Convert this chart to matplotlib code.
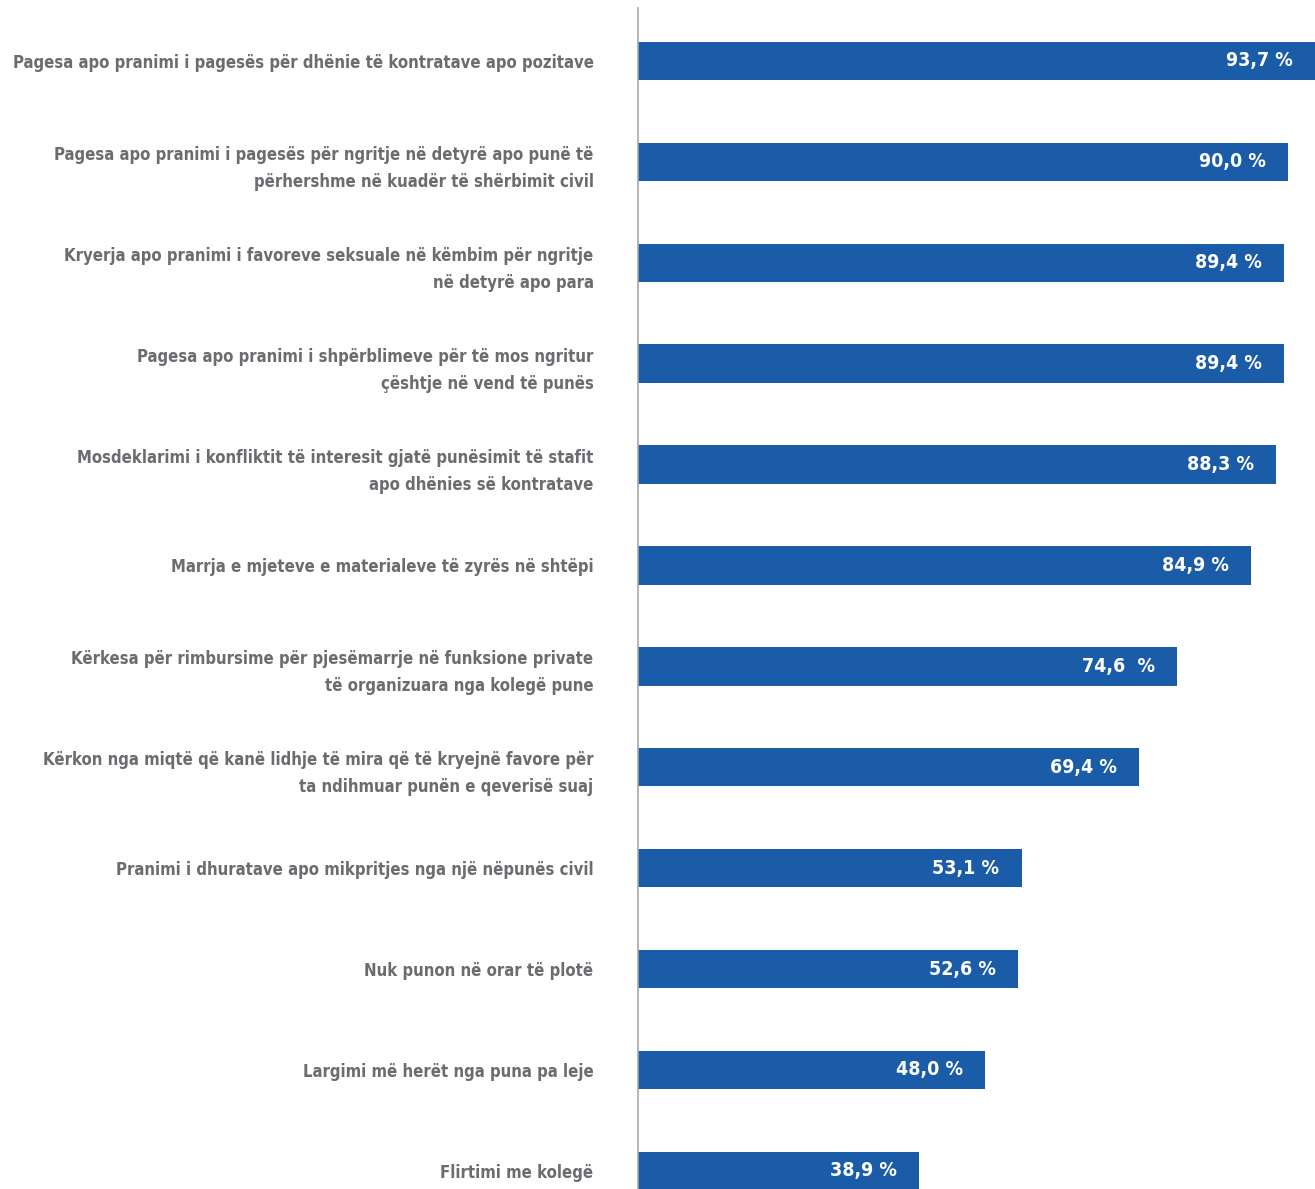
import matplotlib.pyplot as plt

# Category labels (top to bottom) and shares in percent
categories = [
    "Pagesa apo pranimi i pagesës për dhënie të kontratave apo pozitave",
    "Pagesa apo pranimi i pagesës për ngritje në detyrë apo punë të\npërhershme në kuadër të shërbimit civil",
    "Kryerja apo pranimi i favoreve seksuale në këmbim për ngritje\nnë detyrë apo para",
    "Pagesa apo pranimi i shpërblimeve për të mos ngritur\nçështje në vend të punës",
    "Mosdeklarimi i konfliktit të interesit gjatë punësimit të stafit\napo dhënies së kontratave",
    "Marrja e mjeteve e materialeve të zyrës në shtëpi",
    "Kërkesa për rimbursime për pjesëmarrje në funksione private\ntë organizuara nga kolegë pune",
    "Kërkon nga miqtë që kanë lidhje të mira që të kryejnë favore për\nta ndihmuar punën e qeverisë suaj",
    "Pranimi i dhuratave apo mikpritjes nga një nëpunës civil",
    "Nuk punon në orar të plotë",
    "Largimi më herët nga puna pa leje",
    "Flirtimi me kolegë",
]
values = [93.7, 90.0, 89.4, 89.4, 88.3, 84.9, 74.6, 69.4, 53.1, 52.6, 48.0, 38.9]
value_labels = ["93,7 %", "90,0 %", "89,4 %", "89,4 %", "88,3 %", "84,9 %",
                "74,6  %", "69,4 %", "53,1 %", "52,6 %", "48,0 %", "38,9 %"]

BAR_COLOR = "#1b5ca9"
TEXT_COLOR = "#6b6c70"
FONT = ["DejaVu Sans"]

fig = plt.figure(figsize=(13.15, 11.89), dpi=100)
ax = fig.add_axes([638 / 1315, 0, 1 - 638 / 1315, 1 - 8 / 1189])

y = list(range(len(categories)))
ax.barh(y, values, height=0.38, color=BAR_COLOR)

ax.set_xlim(0, 93.7)
ax.set_ylim(11.18, -0.525)

# value labels sit inside the bar, near its end
for yi, val, lab in zip(y, values, value_labels):
    ax.annotate(lab, (val, yi), xytext=(-16, 0), textcoords="offset points",
                ha="right", va="center", color="white", fontsize=14,
                fontweight="bold", fontstretch="condensed", family=FONT)

ax.set_yticks(y)
ax.set_yticklabels(categories, fontsize=12, fontweight="bold", color=TEXT_COLOR,
                   family=FONT, fontstretch="condensed", linespacing=1.65)
ax.tick_params(axis="y", length=0, pad=32)
ax.set_xticks([])

for side in ["top", "right", "bottom"]:
    ax.spines[side].set_visible(False)
ax.spines["left"].set_color("#a8a8a8")
ax.spines["left"].set_linewidth(1.2)

fig.savefig("out.png", dpi=100)
